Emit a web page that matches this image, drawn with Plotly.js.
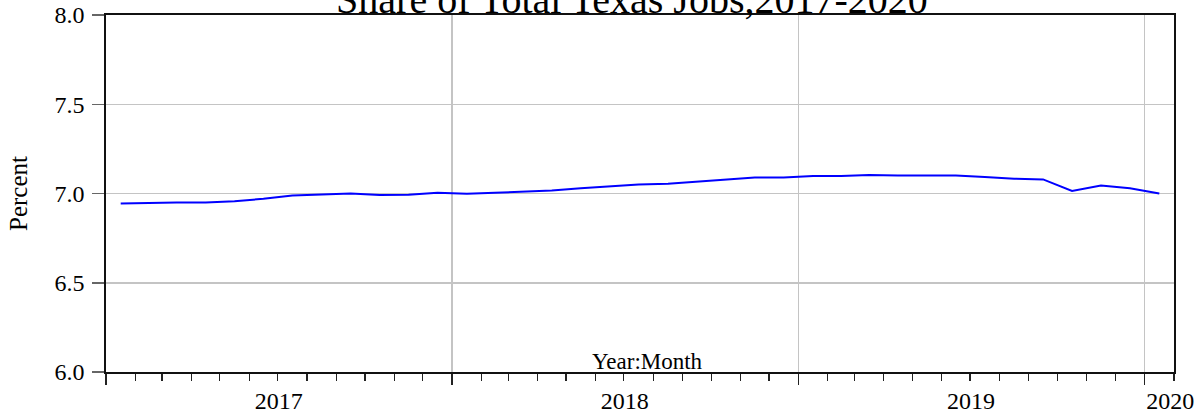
<!DOCTYPE html>
<html>
<head>
<meta charset="utf-8">
<script src="https://cdn.plot.ly/plotly-3.0.1.min.js"></script>
<style>html,body{margin:0;padding:0;background:#fff;}#chart{width:1201px;height:417px;}</style>
</head>
<body>
<div id="chart"></div>
<script>
const months = [
  '2017-01','2017-02','2017-03','2017-04','2017-05','2017-06','2017-07','2017-08','2017-09','2017-10','2017-11','2017-12',
  '2018-01','2018-02','2018-03','2018-04','2018-05','2018-06','2018-07','2018-08','2018-09','2018-10','2018-11','2018-12',
  '2019-01','2019-02','2019-03','2019-04','2019-05','2019-06','2019-07','2019-08','2019-09','2019-10','2019-11','2019-12',
  '2020-01'
];
const sharePercent = [
  6.944, 6.948, 6.949, 6.949, 6.957, 6.970, 6.989, 6.995, 7.000, 6.991, 6.993, 7.004,
  6.998, 7.004, 7.009, 7.017, 7.030, 7.039, 7.051, 7.055, 7.067, 7.078, 7.089, 7.089,
  7.098, 7.098, 7.104, 7.101, 7.100, 7.101, 7.092, 7.083, 7.079, 7.014, 7.045, 7.030,
  7.000
];
const yearLabels = ['2017', '2018', '2019', '2020'];
const yearLabelDates = ['2017-07-02', '2018-07-02', '2019-07-02', '2020-01-28'];
const xRange = ['2017-01-01', '2020-02-01'];
const yRange = [6, 8];

const FONT = '"Liberation Serif", "Times New Roman", serif';

const trace = {
  type: 'scatter',
  mode: 'lines',
  x: months,
  y: sharePercent,
  xperiod: 'M1',
  xperiodalignment: 'middle',
  line: {color: '#0000ff', width: 2},
  hoverinfo: 'skip',
  showlegend: false
};

const layout = {
  width: 1201,
  height: 417,
  paper_bgcolor: '#ffffff',
  plot_bgcolor: '#ffffff',
  margin: {l: 106, r: 27, t: 15, b: 45},
  font: {family: FONT, color: '#000', size: 24},
  title: {
    text: 'Share of Total Texas Jobs,2017-2020',
    font: {family: FONT, size: 40, color: '#000'},
    xref: 'container', x: 0.5262, xanchor: 'center',
    yref: 'container', y: 1 - 13/417, yanchor: 'bottom'
  },
  xaxis: {
    type: 'date',
    range: xRange,
    tick0: '2017-01-01',
    dtick: 'M12',
    ticks: 'outside',
    ticklen: 11,
    tickwidth: 1.5,
    tickcolor: '#222',
    showticklabels: false,
    showgrid: true,
    gridcolor: '#c4c4c4',
    gridwidth: 1.5,
    showline: true,
    linecolor: '#111',
    linewidth: 1.8,
    mirror: true,
    zeroline: false,
    minor: {dtick: 'M1', tick0: '2017-01-01', ticks: 'outside', ticklen: 7, tickwidth: 1.2, tickcolor: '#222', showgrid: false}
  },
  xaxis2: {
    type: 'date',
    overlaying: 'x',
    matches: 'x',
    anchor: 'y',
    side: 'bottom',
    range: xRange,
    tickmode: 'array',
    tickvals: yearLabelDates,
    ticktext: yearLabels,
    ticks: '',
    ticklabelstandoff: 12,
    tickfont: {family: FONT, size: 24, color: '#000'},
    showgrid: false,
    showline: false,
    zeroline: false
  },
  yaxis: {
    range: yRange,
    dtick: 0.5,
    tick0: 6,
    tickformat: '.1f',
    ticks: 'outside',
    ticklen: 12,
    tickwidth: 1.5,
    tickcolor: '#666',
    ticklabelstandoff: 3,
    tickfont: {family: FONT, size: 24, color: '#000'},
    showgrid: true,
    gridcolor: '#c4c4c4',
    gridwidth: 1.5,
    showline: true,
    linecolor: '#111',
    linewidth: 1.8,
    mirror: true,
    zeroline: false,
    title: {text: 'Percent', font: {family: FONT, size: 25, color: '#000'}, standoff: 20}
  },
  annotations: [{
    text: 'Year:Month',
    xref: 'paper', yref: 'paper',
    x: 0.5066, y: 0,
    xanchor: 'center', yanchor: 'bottom',
    yshift: -4,
    showarrow: false,
    font: {family: FONT, size: 23, color: '#000'}
  }]
};

const trace2 = {type: 'scatter', mode: 'lines', x: [], y: [], xaxis: 'x2', yaxis: 'y', showlegend: false, hoverinfo: 'skip'};

Plotly.newPlot('chart', [trace, trace2], layout, {staticPlot: true, displayModeBar: false});
</script>
</body>
</html>
